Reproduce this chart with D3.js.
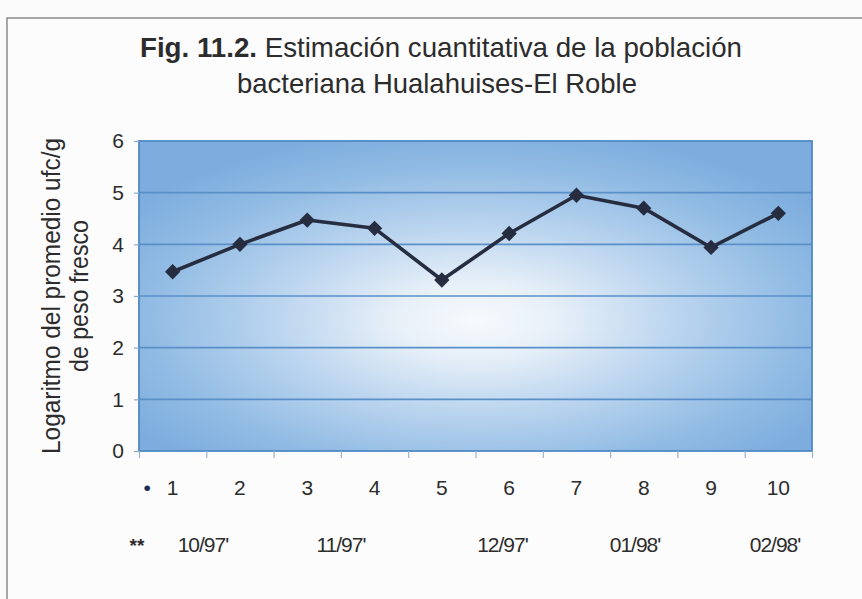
<!DOCTYPE html>
<html>
<head>
<meta charset="utf-8">
<script src="https://cdn.jsdelivr.net/npm/d3@7/dist/d3.min.js"></script>
<style>
  html, body { margin: 0; padding: 0; background: #fbfbfb; }
  svg { display: block; font-family: "Liberation Sans", Arial, sans-serif; }
</style>
</head>
<body>
<svg id="chart" width="862" height="599"></svg>
<script>
// ---- data ----
const categories = [1, 2, 3, 4, 5, 6, 7, 8, 9, 10];
const values = [3.47, 4.0, 4.47, 4.31, 3.31, 4.21, 4.95, 4.70, 3.94, 4.60];
const yTicks = [0, 1, 2, 3, 4, 5, 6];
const dateLabels = ["10/97'", "11/97'", "12/97'", "01/98'", "02/98'"];
const datePositions = [1.45, 3.5, 5.9, 7.87, 9.95];
const titleLine1Bold = "Fig. 11.2.";
const titleLine1Rest = " Estimación cuantitativa de la población";
const titleLine2 = "bacteriana Hualahuises-El Roble";
const yTitle1 = "Logaritmo del promedio ufc/g";
const yTitle2 = "de peso fresco";

// ---- layout ----
const svg = d3.select("#chart");
const plot = { left: 139, right: 812, top: 141, bottom: 451 };
const textColor = "#2c2c2c";

const x = d3.scaleLinear().domain([0.5, 10.5]).range([plot.left, plot.right]);
const y = d3.scaleLinear().domain([0, 6]).range([plot.bottom, plot.top]);

// outer frame
svg.append("rect")
  .attr("x", 7).attr("y", 18).attr("width", 900).attr("height", 640)
  .attr("fill", "#fcfcfc").attr("stroke", "#8c8c8c").attr("stroke-width", 1.5);

// gradient
const defs = svg.append("defs");
const grad = defs.append("radialGradient")
  .attr("id", "bg").attr("cx", 0.5).attr("cy", 0.57).attr("r", 0.62)
  .attr("fx", 0.5).attr("fy", 0.58);
grad.append("stop").attr("offset", 0).attr("stop-color", "#f7fafd");
grad.append("stop").attr("offset", 0.2).attr("stop-color", "#e6eff8");
grad.append("stop").attr("offset", 0.5).attr("stop-color", "#b8d3ee");
grad.append("stop").attr("offset", 0.8).attr("stop-color", "#8fbae3");
grad.append("stop").attr("offset", 1).attr("stop-color", "#7dadde");

svg.append("rect")
  .attr("x", plot.left).attr("y", plot.top)
  .attr("width", plot.right - plot.left).attr("height", plot.bottom - plot.top)
  .attr("fill", "url(#bg)");

// grid lines
svg.append("g").selectAll("line")
  .data(yTicks.filter(d => d > 0 && d < 6))
  .join("line")
  .attr("x1", plot.left).attr("x2", plot.right)
  .attr("y1", d => y(d)).attr("y2", d => y(d))
  .attr("stroke", "#5a8fc8").attr("stroke-width", 1.7);

// plot border
svg.append("rect")
  .attr("x", plot.left).attr("y", plot.top)
  .attr("width", plot.right - plot.left).attr("height", plot.bottom - plot.top)
  .attr("fill", "none").attr("stroke", "#4f89c6").attr("stroke-width", 1.8);

// y axis
const yAxis = svg.append("g")
  .attr("transform", `translate(${plot.left},0)`)
  .call(d3.axisLeft(y).tickValues(yTicks).tickSize(5).tickPadding(10).tickFormat(d3.format("d")));
yAxis.select(".domain").remove();
yAxis.selectAll(".tick line").attr("stroke", "#8aa9c8").attr("stroke-width", 1.2);
yAxis.selectAll(".tick text")
  .attr("font-size", 21).attr("fill", textColor)
  .attr("font-family", "'Liberation Sans', Arial, sans-serif");

// x axis ticks at category boundaries
const boundaries = d3.range(0.5, 11, 1);
const xAxis = svg.append("g")
  .attr("transform", `translate(0,${plot.bottom})`)
  .call(d3.axisBottom(x).tickValues(boundaries).tickSize(7).tickFormat(""));
xAxis.select(".domain").remove();
xAxis.selectAll(".tick line").attr("stroke", "#9ab3cc").attr("stroke-width", 1.2);

// x labels row 1
svg.append("g").selectAll("text")
  .data(categories)
  .join("text")
  .attr("x", d => x(d)).attr("y", 495)
  .attr("text-anchor", "middle")
  .attr("font-size", 21).attr("fill", textColor)
  .text(d => d);

svg.append("text")
  .attr("x", x(0.62)).attr("y", 495)
  .attr("text-anchor", "middle")
  .attr("font-size", 21).attr("fill", "#1e2a5a")
  .text("•");

// date row
svg.append("g").selectAll("text")
  .data(dateLabels)
  .join("text")
  .attr("x", (d, i) => x(datePositions[i])).attr("y", 552)
  .attr("text-anchor", "middle")
  .attr("font-size", 21).attr("fill", textColor)
  .attr("letter-spacing", -1)
  .text(d => d);

svg.append("text")
  .attr("x", x(0.47)).attr("y", 552)
  .attr("text-anchor", "middle")
  .attr("font-size", 19).attr("font-weight", "bold").attr("fill", textColor)
  .text("**");

// line + markers
const pts = categories.map((c, i) => ({ c, v: values[i] }));
svg.append("path")
  .datum(pts)
  .attr("fill", "none")
  .attr("stroke", "#272d40").attr("stroke-width", 3.6)
  .attr("stroke-linejoin", "round")
  .attr("d", d3.line().x(d => x(d.c)).y(d => y(d.v)));

svg.append("g").selectAll("path")
  .data(pts)
  .join("path")
  .attr("transform", d => `translate(${x(d.c)},${y(d.v)})`)
  .attr("d", d3.symbol().type(d3.symbolDiamond2).size(150))
  .attr("fill", "#272d40");

// title
const t1 = svg.append("text")
  .attr("x", 441).attr("y", 57)
  .attr("text-anchor", "middle")
  .attr("font-size", 28).attr("fill", textColor)
  .attr("textLength", 602).attr("lengthAdjust", "spacingAndGlyphs");
t1.append("tspan").attr("font-weight", "bold").text(titleLine1Bold);
t1.append("tspan").text(titleLine1Rest);

svg.append("text")
  .attr("x", 437).attr("y", 93)
  .attr("text-anchor", "middle")
  .attr("font-size", 28).attr("fill", textColor)
  .attr("textLength", 400).attr("lengthAdjust", "spacingAndGlyphs")
  .text(titleLine2);

// y title
const ymid = (plot.top + plot.bottom) / 2;
svg.append("text")
  .attr("transform", `translate(60,${ymid}) rotate(-90)`)
  .attr("text-anchor", "middle")
  .attr("font-size", 25).attr("fill", textColor)
  .attr("textLength", 316).attr("lengthAdjust", "spacingAndGlyphs")
  .text(yTitle1);
svg.append("text")
  .attr("transform", `translate(88,${ymid}) rotate(-90)`)
  .attr("text-anchor", "middle")
  .attr("font-size", 25).attr("fill", textColor)
  .attr("textLength", 152).attr("lengthAdjust", "spacingAndGlyphs")
  .text(yTitle2);
</script>
</body>
</html>
